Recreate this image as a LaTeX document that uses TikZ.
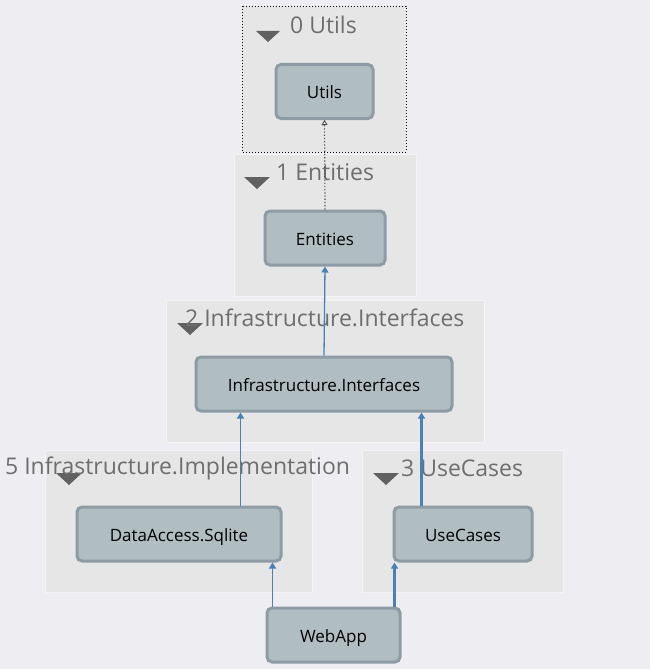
\documentclass[tikz,border=0pt]{standalone}
\usepackage{fontspec}
\setmainfont{Open Sans}
\usetikzlibrary{arrows.meta,positioning}
\definecolor{canvas}{HTML}{EEEEF2}
\definecolor{groupfill}{HTML}{E6E6E6}
\definecolor{groupline}{HTML}{F4F4F4}
\definecolor{boxfill}{HTML}{B0BEC2}
\definecolor{boxline}{HTML}{8D9CA4}
\definecolor{titlegray}{HTML}{6E6E6E}
\definecolor{depblue}{HTML}{4A80B8}
\tikzset{
  group/.style={fill=groupfill, draw=groupline, line width=1pt},
  project/.style={draw=boxline, fill=boxfill, line width=3pt, rounded corners=5pt,
    minimum height=54pt, inner sep=0pt, text height=16pt, text depth=2pt,
    font=\fontsize{17}{20}\selectfont},
  grouptitle/.style={anchor=west, text=titlegray, inner sep=0pt,
    font=\fontsize{23}{26}\selectfont},
  fold/.style={fill=black!62, draw=none},
  dep/.style={draw=depblue, line width=1.3pt, -{Triangle[width=7pt,length=6pt]}},
  depthick/.style={dep, line width=2.4pt},
  deplocal/.style={draw=black!70, dotted, line width=1.2pt,
    -{Triangle[open,width=6pt,length=5pt,line width=0.8pt]}}
}
\begin{document}
\begin{tikzpicture}[x=1pt, y=-1pt]
  \useasboundingbox[fill=canvas] (0,0) rectangle (650,669);

  % layers
  \filldraw[group, draw=black, dotted, line width=0.8pt] (242,6) rectangle (406,152);
  \filldraw[group] (234,154) rectangle (416,296);
  \filldraw[group] (166,300) rectangle (484,442);
  \filldraw[group] (45,450) rectangle (312,592);
  \filldraw[group] (362,450) rectangle (563,592);

  % fold markers
  \fill[fold] (256,31) -- (280,31) -- (268,42) -- cycle;
  \fill[fold] (244,177) -- (270,177) -- (257,189) -- cycle;
  \fill[fold] (177,323) -- (203,323) -- (190,335) -- cycle;
  \fill[fold] (56,473) -- (82,473) -- (69,485) -- cycle;
  \fill[fold] (373,473) -- (399,473) -- (386,485) -- cycle;

  % layer titles
  \node[grouptitle] (t0) at (290,25) {0 Utils};
  \node[grouptitle] (t1) at (276,172) {1 Entities};
  \node[grouptitle] (t2) at (185,318) {2 Infrastructure.Interfaces};
  \node[grouptitle] (t5) at (5,468) {5 Infrastructure.Implementation};
  \node[grouptitle] (t3) at (401,468) {3 UseCases};

  % projects
  \node[project, minimum width=97pt] (utils) at (324.5,91.5) {Utils};
  \node[project, minimum width=120pt] (entities) at (325,238) {Entities};
  \node[project, minimum width=256pt] (interfaces) at (324,384) {Infrastructure.Interfaces};
  \node[project, minimum width=204pt] (sqlite) at (179,534) {DataAccess.Sqlite};
  \node[project, minimum width=138pt] (usecases) at (463,534) {UseCases};
  \node[project, minimum width=133pt] (webapp) at (333.5,635) {WebApp};

  % dependencies
  \draw[deplocal] (entities.north) -- (utils.south);
  \draw[dep] (interfaces.north) -- (entities.south);
  \draw[dep] ([xshift=-42pt]sqlite.north east) -- ([xshift=-42pt]sqlite.north east |- interfaces.south);
  \draw[depthick] ([xshift=29pt]usecases.north west) -- ([xshift=29pt]usecases.north west |- interfaces.south);
  \draw[dep] ([xshift=7pt]webapp.north west) -- ([xshift=7pt]webapp.north west |- sqlite.south);
  \draw[depthick] ([xshift=2pt]usecases.south west |- webapp.north) -- ([xshift=2pt]usecases.south west);
\end{tikzpicture}
\end{document}
